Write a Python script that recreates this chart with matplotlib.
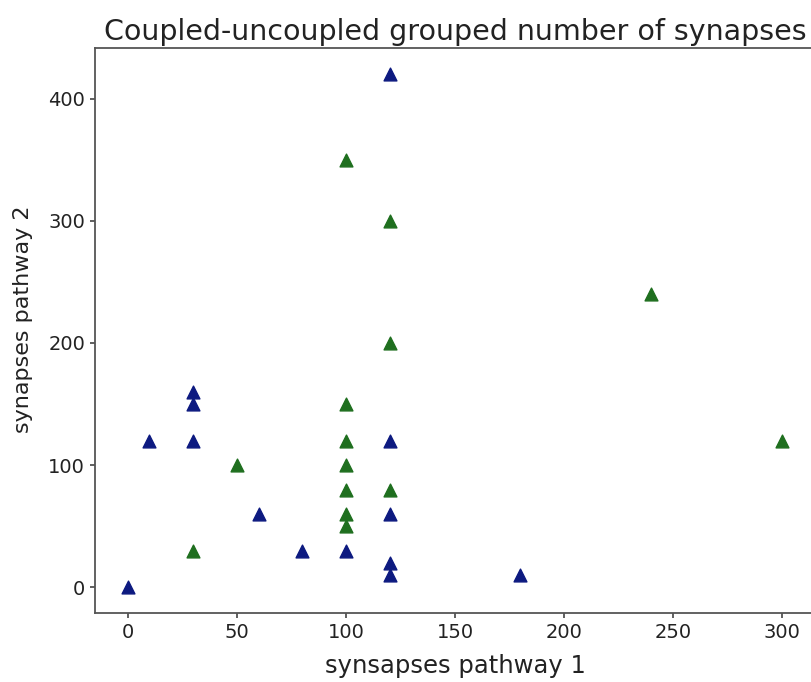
import matplotlib
matplotlib.use("Agg")
import matplotlib.pyplot as plt

# Coupled neuron pairs (blue)
coupled_p1 = [0, 10, 30, 30, 30, 60, 80, 100, 120, 120, 120, 120, 120, 180]
coupled_p2 = [0, 120, 160, 150, 120, 60, 30, 30, 420, 120, 60, 20, 10, 10]

# Uncoupled neuron pairs (green)
uncoupled_p1 = [30, 50, 100, 100, 100, 100, 100, 100, 100, 120, 120, 120, 240, 300]
uncoupled_p2 = [30, 100, 350, 150, 120, 100, 80, 60, 50, 300, 200, 80, 240, 120]

x_ticks = [0, 50, 100, 150, 200, 250, 300]
y_ticks = [0, 100, 200, 300, 400]

fig = plt.figure(figsize=(8.11, 6.82), dpi=100)
ax = fig.add_axes([0.117, 0.101, 0.888, 0.828])

ax.scatter(uncoupled_p1, uncoupled_p2, marker="^", s=85, color="#1f6f1f")
ax.scatter(coupled_p1, coupled_p2, marker="^", s=85, color="#0d1a80")

ax.set_xticks(x_ticks)
ax.set_yticks(y_ticks)
ax.tick_params(labelsize=14, colors="#444444", labelcolor="#222222", width=1.2)
for sp in ax.spines.values():
    sp.set_color("#555555")
    sp.set_linewidth(1.3)

ax.set_xlabel("synsapses pathway 1", fontsize=17.5, color="#222222", labelpad=9)
ax.set_ylabel("synapses pathway 2", fontsize=16, color="#222222", labelpad=10)
ax.yaxis.set_label_coords(-0.086, 0.52)
ax.set_title("Coupled-uncoupled grouped number of synapses", fontsize=20.5,
             color="#222222", pad=6)

fig.savefig("out.png", dpi=100)
